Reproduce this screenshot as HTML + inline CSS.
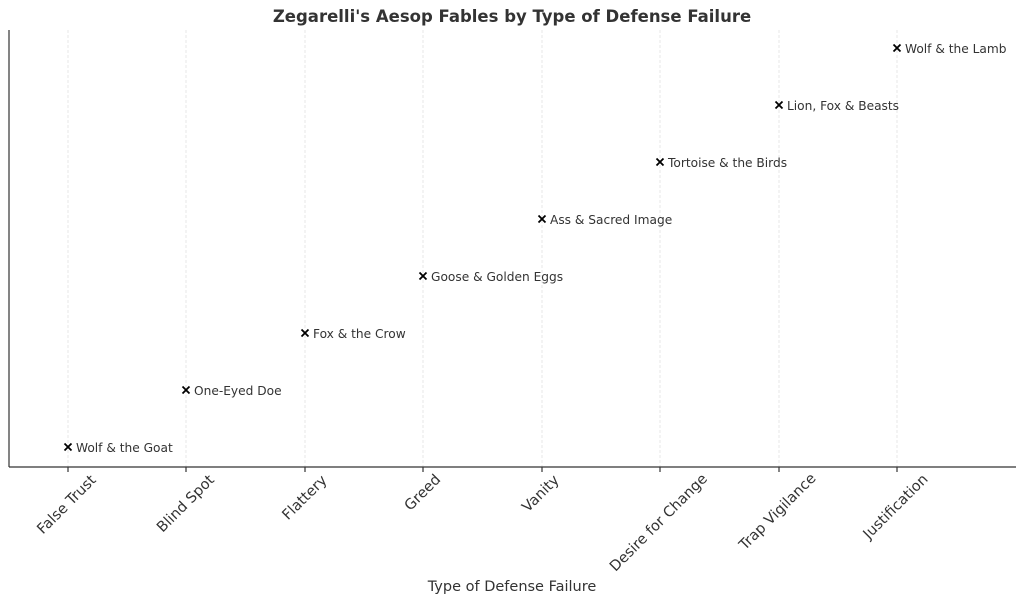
<!DOCTYPE html>
<html><head><meta charset="utf-8"><style>
html,body{margin:0;padding:0;background:#fff;}
svg{display:block;font-family:"DejaVu Sans","Liberation Sans",sans-serif;}
</style></head><body>
<svg width="1024" height="603" viewBox="0 0 1024 603" xmlns="http://www.w3.org/2000/svg">
<rect width="1024" height="603" fill="#fff"/>
<text x="512" y="22" text-anchor="middle" font-size="16.5" font-weight="bold" fill="#333">Zegarelli's Aesop Fables by Type of Defense Failure</text>
<g stroke="#ddd" stroke-width="0.7" stroke-dasharray="3,2">
<line x1="68" y1="30" x2="68" y2="467"/><line x1="186" y1="30" x2="186" y2="467"/>
<line x1="305" y1="30" x2="305" y2="467"/><line x1="423" y1="30" x2="423" y2="467"/>
<line x1="542" y1="30" x2="542" y2="467"/><line x1="660" y1="30" x2="660" y2="467"/>
<line x1="779" y1="30" x2="779" y2="467"/><line x1="897" y1="30" x2="897" y2="467"/>
</g>
<g stroke="#333" stroke-width="1.2">
<line x1="9" y1="30" x2="9" y2="467"/><line x1="9" y1="467" x2="1016" y2="467"/>
<line x1="68" y1="467" x2="68" y2="472"/><line x1="186" y1="467" x2="186" y2="472"/>
<line x1="305" y1="467" x2="305" y2="472"/><line x1="423" y1="467" x2="423" y2="472"/>
<line x1="542" y1="467" x2="542" y2="472"/><line x1="660" y1="467" x2="660" y2="472"/>
<line x1="779" y1="467" x2="779" y2="472"/><line x1="897" y1="467" x2="897" y2="472"/>
</g>
<g stroke="#000" stroke-width="1.8">
<path d="M64.5,443.5l7,7M71.5,443.5l-7,7"/><path d="M182.5,386.5l7,7M189.5,386.5l-7,7"/>
<path d="M301.5,329.5l7,7M308.5,329.5l-7,7"/><path d="M419.5,272.5l7,7M426.5,272.5l-7,7"/>
<path d="M538.5,215.5l7,7M545.5,215.5l-7,7"/><path d="M656.5,158.5l7,7M663.5,158.5l-7,7"/>
<path d="M775.5,101.5l7,7M782.5,101.5l-7,7"/><path d="M893.5,44.5l7,7M900.5,44.5l-7,7"/>
</g>
<g font-size="12.2" fill="#333">
<text x="76" y="452">Wolf &amp; the Goat</text>
<text x="194" y="395">One-Eyed Doe</text>
<text x="313" y="338">Fox &amp; the Crow</text>
<text x="431" y="281">Goose &amp; Golden Eggs</text>
<text x="550" y="224">Ass &amp; Sacred Image</text>
<text x="668" y="167">Tortoise &amp; the Birds</text>
<text x="787" y="110">Lion, Fox &amp; Beasts</text>
<text x="905" y="53">Wolf &amp; the Lamb</text>
</g>
<g font-size="14.5" fill="#333" text-anchor="middle" dominant-baseline="central">
<text transform="translate(67,505) rotate(-45)">False Trust</text>
<text transform="translate(186,504) rotate(-45)">Blind Spot</text>
<text transform="translate(305,498) rotate(-45)">Flattery</text>
<text transform="translate(423,493) rotate(-45)">Greed</text>
<text transform="translate(541,494) rotate(-45)">Vanity</text>
<text transform="translate(659,523) rotate(-45)">Desire for Change</text>
<text transform="translate(778,512) rotate(-45)">Trap Vigilance</text>
<text transform="translate(896,507) rotate(-45)">Justification</text>
</g>
<text x="512" y="591" text-anchor="middle" font-size="14.5" fill="#333">Type of Defense Failure</text>
</svg>
</body></html>
